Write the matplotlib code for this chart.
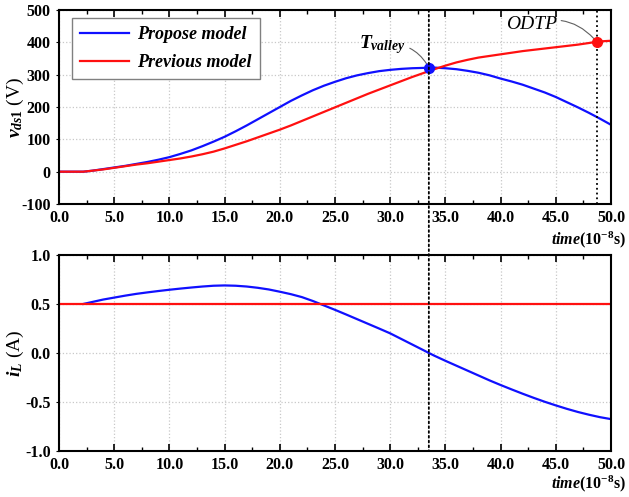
import matplotlib
matplotlib.use("Agg")
import matplotlib.pyplot as plt
from matplotlib.patches import ConnectionPatch
from matplotlib.ticker import MultipleLocator, FormatStrFormatter

plt.rcParams['font.family'] = ['Liberation Serif', 'DejaVu Serif']
plt.rcParams['font.weight'] = 'bold'
plt.rcParams['axes.unicode_minus'] = False
plt.rcParams['mathtext.fontset'] = 'custom'
plt.rcParams['mathtext.rm'] = 'Liberation Serif:bold'
plt.rcParams['mathtext.it'] = 'Liberation Serif:italic:bold'
plt.rcParams['mathtext.bf'] = 'Liberation Serif:bold'

# drain-source voltage, time in 1e-8 s
t_prop = [0, 2.2, 3, 4, 5, 6, 7, 8, 9, 10, 11, 12, 13, 14, 15, 16, 17, 18,
          19, 20, 21, 22, 23, 24, 25, 26, 27, 28, 29, 30, 31, 32, 33, 33.5,
          34, 35, 36, 37, 38, 39, 40, 41, 42, 43, 44, 45, 46, 47, 48, 49, 50]
v_prop = [0, 0, 3, 8, 13, 18, 24, 30, 37, 45, 55, 66, 79, 93, 108, 125, 143,
          162, 181, 200, 219, 236, 252, 266, 278, 289, 298, 305, 311, 315,
          318, 320, 321, 322, 322, 320, 317, 312, 306, 298, 288, 279, 269,
          257, 245, 231, 215, 199, 182, 164, 145]

t_prev = [0, 2.2, 3, 4, 5, 6, 7, 8, 9, 10, 11, 12, 13, 14, 15, 16, 17, 18,
          19, 20, 21, 22, 23, 24, 25, 26, 27, 28, 29, 30, 31, 32, 33, 34, 35,
          36, 37, 38, 39, 40, 41, 42, 43, 44, 45, 46, 47, 48, 48.7, 49, 50]
v_prev = [0, 0, 3, 7, 12, 17, 22, 26, 31, 36, 41, 47, 54, 62, 72, 83, 94,
          106, 118, 130, 143, 157, 171, 185, 199, 213, 227, 241, 254, 267,
          280, 293, 305, 317, 328, 338, 346, 353, 358, 363, 368, 373, 377,
          381, 385, 389, 393, 398, 402, 403, 405]

# inductor current
ti_prop = [2.2, 3, 4, 5, 6, 7, 8, 9, 10, 11, 12, 13, 14, 15, 16, 17, 18, 19,
           20, 21, 22, 23, 24, 25, 26, 27, 28, 29, 30, 31, 32, 33, 33.5, 34,
           35, 36, 37, 38, 39, 40, 41, 42, 43, 44, 45, 46, 47, 48, 49, 50]
i_prop = [0.5, 0.52, 0.545, 0.565, 0.585, 0.603, 0.618, 0.632, 0.645, 0.657,
          0.668, 0.678, 0.686, 0.689, 0.686, 0.678, 0.665, 0.648, 0.625, 0.6,
          0.57, 0.53, 0.485, 0.44, 0.393, 0.345, 0.297, 0.249, 0.2, 0.143,
          0.086, 0.029, 0.0, -0.028, -0.08, -0.13, -0.18, -0.23, -0.28,
          -0.327, -0.372, -0.416, -0.458, -0.498, -0.535, -0.57, -0.602,
          -0.63, -0.655, -0.675]
ti_prev = [0, 50]
i_prev = [0.5, 0.5]

t_valley, v_valley = 33.5, 322
t_odtp, v_odtp = 48.7, 402

fig = plt.figure(figsize=(6.29, 4.97), dpi=100)
ax1 = fig.add_axes([0.0938, 0.5895, 0.8776, 0.3903])
ax2 = fig.add_axes([0.0938, 0.0926, 0.8776, 0.3944])


def style(ax):
    ax.set_xlim(0, 50)
    ax.xaxis.set_major_locator(MultipleLocator(5))
    ax.xaxis.set_minor_locator(MultipleLocator(2.5))
    ax.xaxis.set_major_formatter(FormatStrFormatter('%.1f'))
    ax.tick_params(axis='x', which='both', direction='in', top=True,
                   labelsize=11.5, pad=4)
    ax.tick_params(axis='x', which='major', length=5, width=1.2)
    ax.tick_params(axis='x', which='minor', length=3, width=1)
    ax.tick_params(axis='y', direction='out', length=2, labelsize=11.5, pad=4)
    ax.grid(True, color='#c8c8c8', linestyle=':', linewidth=0.9)
    for s in ax.spines.values():
        s.set_linewidth(1.5)
    for lab in ax.get_xticklabels() + ax.get_yticklabels():
        lab.set_fontweight('bold')
    ax.yaxis.set_label_coords(-0.06, 0.5)


ax1.plot(t_prop, v_prop, color='#1010ff', lw=1.6, label='Propose model')
ax1.plot(t_prev, v_prev, color='#ff1010', lw=1.6, label='Previous model')
ax1.set_ylim(-100, 500)
ax1.yaxis.set_major_locator(MultipleLocator(100))
style(ax1)
ax1.set_ylabel(r'$v_{ds1}$ (V)', fontsize=14)

ax1.axvline(t_odtp, color='black', linestyle=':', lw=1.3)
ax1.plot(t_valley, v_valley, 'o', color='#1010ff', ms=7, zorder=5)
ax1.plot(t_odtp, v_odtp, 'o', color='#ff1010', ms=7, zorder=5)

ax1.annotate(r'$T_{valley}$', xy=(t_valley, v_valley), xytext=(29.3, 392),
             ha='center', va='center', fontsize=14,
             arrowprops=dict(arrowstyle='-', color='#606060', lw=0.8,
                             connectionstyle='arc3,rad=-0.35',
                             shrinkA=1, shrinkB=3))
ax1.annotate('ODTP', xy=(t_odtp, v_odtp), xytext=(42.8, 455),
             ha='center', va='center', fontsize=14, style='italic',
             fontweight='normal',
             arrowprops=dict(arrowstyle='-', color='#606060', lw=0.8,
                             connectionstyle='arc3,rad=-0.35',
                             shrinkA=1, shrinkB=3))

leg = ax1.legend(loc='upper left', bbox_to_anchor=(0.0236, 0.959),
                 borderaxespad=0, fancybox=False, edgecolor='#808080',
                 framealpha=1, handlelength=2.7, handletextpad=0.45,
                 borderpad=0.45, labelspacing=0.6,
                 prop={'size': 13, 'style': 'italic', 'weight': 'bold'})
leg.get_frame().set_linewidth(1.0)

ax2.plot(ti_prop, i_prop, color='#1010ff', lw=1.6)
ax2.plot(ti_prev, i_prev, color='#ff1010', lw=1.6)
ax2.set_ylim(-1, 1)
ax2.yaxis.set_major_locator(MultipleLocator(0.5))
ax2.yaxis.set_major_formatter(FormatStrFormatter('%.1f'))
style(ax2)
ax2.set_ylabel(r'$i_L$ (A)', fontsize=14)

# valley marker line running across both panels
con = ConnectionPatch(xyA=(t_valley, 500), coordsA=ax1.transData,
                      xyB=(t_valley, -1), coordsB=ax2.transData,
                      color='black', linestyle=':', lw=1.3, zorder=6)
fig.add_artist(con)

ax1.text(1.028, -0.185, r'$time$(10$^{-8}$s)', transform=ax1.transAxes,
         ha='right', va='center', fontsize=11.5)
ax2.text(1.028, -0.165, r'$time$(10$^{-8}$s)', transform=ax2.transAxes,
         ha='right', va='center', fontsize=11.5)

fig.savefig('out.png', dpi=100)
